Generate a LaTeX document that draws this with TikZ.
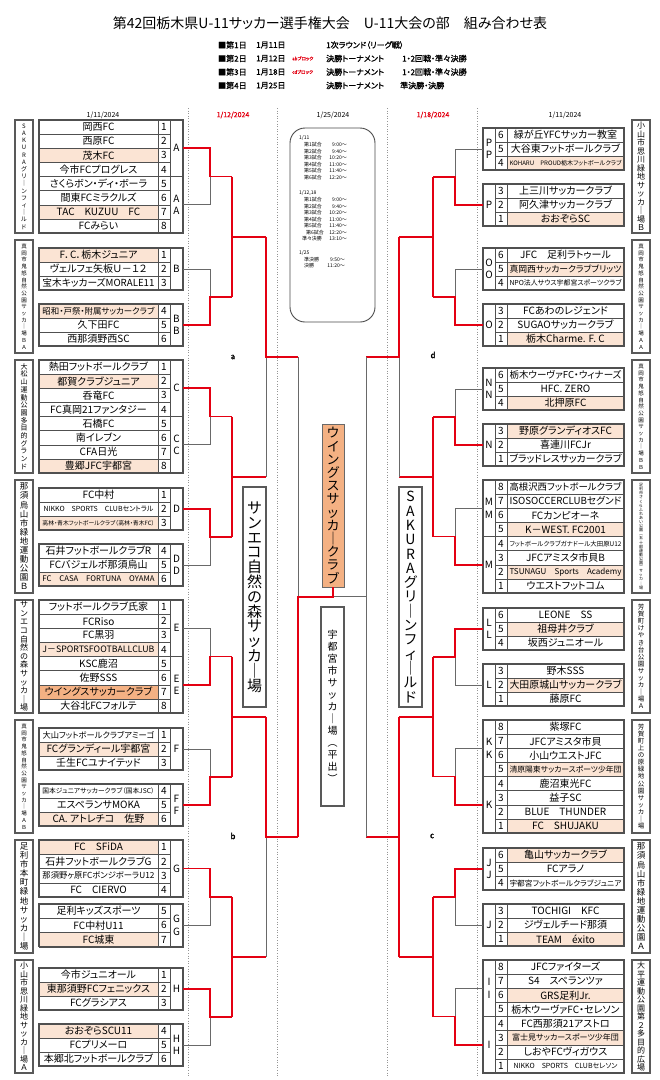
\documentclass[tikz,border=0pt]{standalone}
\usepackage{fontspec}
\usepackage{graphicx}
\setmainfont{Noto Sans CJK JP}[AutoFakeBold=1.2,RawFeature=+palt]
\usetikzlibrary{calc}
\definecolor{peach}{RGB}{251,228,212}
\definecolor{wing}{RGB}{244,177,131}
\definecolor{redl}{RGB}{228,0,18}
\definecolor{grayl}{RGB}{105,105,105}
\definecolor{cellc}{RGB}{80,80,80}
\definecolor{dotc}{RGB}{150,150,150}
\newsavebox\fitbox
\newcommand\fitw[2][112pt]{\sbox\fitbox{#2}\ifdim\wd\fitbox>#1\relax\resizebox{#1}{!}{\usebox\fitbox}\else\usebox\fitbox\fi}
\makeatletter
\def\vt@a#1{\ifx\relax#1\else\hbox to 0pt{\hss#1\hss}\expandafter\vt@a\fi}
\newcommand\vtxt[3]{\vbox{\fontsize{#1}{#2}\selectfont\lineskiplimit=-100pt\relax\vt@a#3\relax}}
\makeatother
\def\rowh{14.125}
% rows
\newcommand\Lrow[6]{%
 \draw[cellb,fill=#5] (39,#3) rectangle (158,#3+#4);
 \draw[cellb] (158,#3) rectangle (170,#3+#4);
 \node[nm] (#1#2t) at (98.5,#3+#4/2) {\fitw{#6}};
 \node[nr] (#1#2) at (164,#3+#4/2) {#2};}
\newcommand\Rrow[6]{%
 \draw[cellb,fill=#5] (507,#3) rectangle (624,#3+#4);
 \draw[cellb] (495,#3) rectangle (507,#3+#4);
 \node[nm] (#1#2t) at (565.5,#3+#4/2) {\fitw{#6}};
 \node[nr] (#1#2) at (501,#3+#4/2) {#2};}
\newcommand\Lg[5]{%
 \draw[cellb] (170,#3) rectangle (183,#4);
 \node[gl] (g#1#2) at (176.5,{(#3+#4)/2}) {#5};
 \coordinate (o#1#2) at (183,{(#3+#4)/2});
 \draw[bframe] (39,#3) rectangle (183,#4);}
\newcommand\Rg[5]{%
 \draw[cellb] (483,#3) rectangle (495,#4);
 \node[gl] (g#1#2) at (489,{(#3+#4)/2}) {#5};
 \coordinate (o#1#2) at (483,{(#3+#4)/2});
 \draw[bframe] (483,#3) rectangle (624,#4);}
\newcommand\Lven[5]{\node[venue] (v#1) at (24,#2+56.5) {\vtxt{#3}{#4}{#5}};}
\newcommand\Rven[5]{\node[venue] (v#1) at (641,#2+56.5) {\vtxt{#3}{#4}{#5}};}
% brackets
\newcommand\Lone[2]{%
 \coordinate (#1r) at ($(o#11)!0.5!(o#12)+(27,0)$);
 \coordinate (#1w) at ($(o#11)!0.5!(o#12)+(49,0)$);
 \ifnum#2=1
  \draw[lose] (o#12) -- (o#12 -| #1r) -- (#1r);
  \draw[win] (o#11) -- (o#11 -| #1r) -- (#1r) -- (#1w);
 \else
  \draw[lose] (o#11) -- (o#11 -| #1r) -- (#1r);
  \draw[win] (o#12) -- (o#12 -| #1r) -- (#1r) -- (#1w);
 \fi}
\newcommand\Rone[2]{%
 \coordinate (#1r) at ($(o#11)!0.5!(o#12)+(-28,0)$);
 \coordinate (#1w) at ($(o#11)!0.5!(o#12)+(-50,0)$);
 \ifnum#2=1
  \draw[lose] (o#12) -- (o#12 -| #1r) -- (#1r);
  \draw[win] (o#11) -- (o#11 -| #1r) -- (#1r) -- (#1w);
 \else
  \draw[lose] (o#11) -- (o#11 -| #1r) -- (#1r);
  \draw[win] (o#12) -- (o#12 -| #1r) -- (#1r) -- (#1w);
 \fi}
\newcommand\Ltwo[2]{%
 \coordinate (#1#2m) at ($(#1w)!0.5!(#2w)$);
 \coordinate (#1#2q) at ($(#1#2m)+(34,0)$);
 \draw[win] (#1w) -- (#2w);
 \draw[win] (#1#2m) -- (#1#2q);}
\newcommand\Rtwo[2]{%
 \coordinate (#1#2m) at ($(#1w)!0.5!(#2w)$);
 \coordinate (#1#2q) at ($(#1#2m)+(-34,0)$);
 \draw[win] (#1w) -- (#2w);
 \draw[win] (#1#2m) -- (#1#2q);}
\newcommand\Xqf[5]{%
 \coordinate (#3m) at ($(#1q)!0.5!(#2q)$);
 \coordinate (#3s) at ($(#3m)+(#5,0)$);
 \ifnum#4=1
  \draw[lose] (#3m) -- (#2q);
  \draw[win] (#1q) -- (#3m) -- (#3s);
 \else
  \draw[win] (#1q) -- (#2q);
  \draw[win] (#3m) -- (#3s);
 \fi}
\begin{document}
\begin{tikzpicture}[x=1pt,y=-1pt,
 cellb/.style={draw=cellc,line width=0.5},
 bframe/.style={draw=cellc,line width=1.1},
 venue/.style={draw=black!65,line width=1.5,minimum width=18,minimum height=113,inner sep=0},
 bigbox/.style={draw=black!65,line width=1.6,inner sep=0,fill=white},
 nm/.style={inner sep=0pt,font=\fontsize{10}{12}\selectfont},
 nr/.style={inner sep=0pt,font=\fontsize{10}{12}\selectfont},
 gl/.style={inner sep=0pt,align=center,font=\fontsize{10}{12.5}\selectfont},
 win/.style={draw=redl,line width=1.6},
 lose/.style={draw=grayl,line width=0.7},
 dotl/.style={draw=dotc,line width=0.6,dotted},
 hdr/.style={anchor=west,inner sep=0,font=\bfseries\fontsize{8}{9}\selectfont},
 hred/.style={anchor=west,inner sep=0,text=redl,font=\bfseries\fontsize{4.5}{5}\selectfont},
 dt/.style={inner sep=0,font=\fontsize{7}{8}\selectfont},
 dtr/.style={inner sep=0,text=redl,font=\bfseries\fontsize{7}{8}\selectfont},
 sch/.style={anchor=west,inner sep=0,font=\fontsize{5}{6}\selectfont},
 scht/.style={anchor=east,inner sep=0,font=\fontsize{5}{6}\selectfont},
 blk/.style={inner sep=0,font=\bfseries\fontsize{8}{9}\selectfont}]
\fill[white] (0,0) rectangle (660,1080);
\useasboundingbox (0,0) rectangle (660,1080);
% header
\node[font=\fontsize{14}{16}\selectfont] (title) at (330,23) {第42回栃木県U-11サッカー選手権大会　U-11大会の部　組み合わせ表};
\node[hdr] (h1a) at (218,45) {■第1日};
\node[hdr] (h1b) at (256,45) {1月11日};
\node[hdr] (h1c) at (326,45) {1次ラウンド（リーグ戦）};
\node[hdr] (h2a) at (218,58.5) {■第2日};
\node[hdr] (h2b) at (256,58.5) {1月12日};
\node[hred] (h2r) at (292,58.5) {abブロック};
\node[hdr] (h2c) at (326,58.5) {決勝トーナメント};
\node[hdr] (h2d) at (402,58.5) {1・2回戦・準々決勝};
\node[hdr] (h3a) at (218,72) {■第3日};
\node[hdr] (h3b) at (256,72) {1月18日};
\node[hred] (h3r) at (292,72) {cdブロック};
\node[hdr] (h3c) at (326,72) {決勝トーナメント};
\node[hdr] (h3d) at (402,72) {1・2回戦・準々決勝};
\node[hdr] (h4a) at (218,85.5) {■第4日};
\node[hdr] (h4b) at (256,85.5) {1月25日};
\node[hdr] (h4c) at (326,85.5) {決勝トーナメント};
\node[hdr] (h4d) at (400,85.5) {準決勝・決勝};
% dates
\node[dt] (d1) at (103,115) {1/11/2024};
\node[dtr] (d2) at (233,115) {1/12/2024};
\node[dt] (d3) at (333,115) {1/25/2024};
\node[dtr] (d4) at (433,115) {1/18/2024};
\node[dt] (d5) at (565,115) {1/11/2024};
% dotted separators
\draw[dotl] (188,108) -- (188,1076);
\draw[dotl] (277,108) -- (277,1076);
\draw[dotl] (387,108) -- (387,1076);
\draw[dotl] (477,108) -- (477,1076);
% schedule box
\draw[draw=black!70,line width=0.9,rounded corners=15] (290,128) rectangle (375,322);
\node[sch] (s0) at (299,138) {1/11};
\node[sch] (s1) at (304,145) {第1試合}; \node[scht] (t1) at (347,145) {9:00～};
\node[sch] (s2) at (304,151.5) {第2試合}; \node[scht] (t2) at (347,151.5) {9:40～};
\node[sch] (s3) at (304,158) {第3試合}; \node[scht] (t3) at (347,158) {10:20～};
\node[sch] (s4) at (304,164.5) {第4試合}; \node[scht] (t4) at (347,164.5) {11:00～};
\node[sch] (s5) at (304,171) {第5試合}; \node[scht] (t5) at (347,171) {11:40～};
\node[sch] (s6) at (304,177.5) {第6試合}; \node[scht] (t6) at (347,177.5) {12:20～};
\node[sch] (u0) at (299,193) {1/12,18};
\node[sch] (u1) at (304,200) {第1試合}; \node[scht] (w1) at (347,200) {9:00～};
\node[sch] (u2) at (304,206.5) {第2試合}; \node[scht] (w2) at (347,206.5) {9:40～};
\node[sch] (u3) at (304,213) {第3試合}; \node[scht] (w3) at (347,213) {10:20～};
\node[sch] (u4) at (304,219.5) {第4試合}; \node[scht] (w4) at (347,219.5) {11:00～};
\node[sch] (u5) at (304,226) {第5試合}; \node[scht] (w5) at (347,226) {11:40～};
\node[sch] (u6) at (306,232.5) {第6試合}; \node[scht] (w6) at (347,232.5) {12:20～};
\node[sch] (u7) at (302,239) {準々決勝}; \node[scht] (w7) at (347,239) {13:10～};
\node[sch] (v0) at (299,253) {1/25};
\node[sch] (v1) at (304,259.5) {準決勝}; \node[scht] (x1) at (345,259.5) {9:50～};
\node[sch] (v2) at (304,266) {決勝}; \node[scht] (x2) at (345,266) {11:20～};
% ===== LEFT GROUPS =====
\Lven{A}{120}{6}{7.2}{SAKURAグリ｜ンフィ｜ルド}
\Lrow{A}{1}{120}{\rowh}{white}{岡西FC}
\Lrow{A}{2}{120+1*\rowh}{\rowh}{white}{西原FC}
\Lrow{A}{3}{120+2*\rowh}{\rowh}{peach}{茂木FC}
\Lrow{A}{4}{120+3*\rowh}{\rowh}{white}{今市FCプログレス}
\Lrow{A}{5}{120+4*\rowh}{\rowh}{white}{さくらボン・ディ・ボーラ}
\Lrow{A}{6}{120+5*\rowh}{\rowh}{white}{間東FCミラクルズ}
\Lrow{A}{7}{120+6*\rowh}{\rowh}{peach}{TAC　KUZUU　FC}
\Lrow{A}{8}{120+7*\rowh}{\rowh}{white}{FCみらい}
\Lg{A}{1}{120}{176.5}{A}
\Lg{A}{2}{176.5}{233}{A\\A}
\Lven{B}{240}{5.5}{6.7}{真岡市鬼怒自然公園サッカ｜場ＢＡ}
\Lrow{B}{1}{248}{14}{peach}{F．C．栃木ジュニア}
\Lrow{B}{2}{262}{14}{white}{ヴェルフェ矢板Ｕ－１２}
\Lrow{B}{3}{276}{14}{white}{宝木キッカーズMORALE11}
\Lrow{B}{4}{304}{14}{peach}{昭和・戸祭・附属サッカークラブ}
\Lrow{B}{5}{318}{14}{white}{久下田FC}
\Lrow{B}{6}{332}{14}{white}{西那須野西SC}
\Lg{B}{1}{248}{290}{B}
\Lg{B}{2}{304}{346}{B\\B}
\Lven{C}{360}{7}{7.7}{大松山運動公園多目的グランド}
\Lrow{C}{1}{360}{\rowh}{white}{熱田フットボールクラブ}
\Lrow{C}{2}{360+1*\rowh}{\rowh}{peach}{都賀クラブジュニア}
\Lrow{C}{3}{360+2*\rowh}{\rowh}{white}{呑竜FC}
\Lrow{C}{4}{360+3*\rowh}{\rowh}{white}{FC真岡21ファンタジー}
\Lrow{C}{5}{360+4*\rowh}{\rowh}{white}{石橋FC}
\Lrow{C}{6}{360+5*\rowh}{\rowh}{white}{南イレブン}
\Lrow{C}{7}{360+6*\rowh}{\rowh}{white}{CFA日光}
\Lrow{C}{8}{360+7*\rowh}{\rowh}{peach}{豊郷JFC宇都宮}
\Lg{C}{1}{360}{416.5}{C}
\Lg{C}{2}{416.5}{473}{C\\C}
\Lven{D}{480}{8.5}{9.1}{那須烏山市緑地運動公園Ｂ}
\Lrow{D}{1}{488}{14}{white}{FC中村}
\Lrow{D}{2}{502}{14}{white}{\fontsize{7}{8}\selectfont NIKKO　SPORTS　CLUBセントラル}
\Lrow{D}{3}{516}{14}{peach}{高林・青木フットボールクラブ（高林・青木FC）}
\Lrow{D}{4}{544}{14}{white}{石井フットボールクラブR}
\Lrow{D}{5}{558}{14}{white}{FCバジェルボ那須烏山}
\Lrow{D}{6}{572}{14}{peach}{\fontsize{8}{9}\selectfont FC　CASA　FORTUNA　OYAMA}
\Lg{D}{1}{488}{530}{D}
\Lg{D}{2}{544}{586}{D\\D}
\Lven{E}{600}{8}{8.6}{サンエコ自然の森サッカ｜場}
\Lrow{E}{1}{600}{\rowh}{white}{フットボールクラブ氏家}
\Lrow{E}{2}{600+1*\rowh}{\rowh}{white}{FCRiso}
\Lrow{E}{3}{600+2*\rowh}{\rowh}{white}{FC黒羽}
\Lrow{E}{4}{600+3*\rowh}{\rowh}{peach}{J－SPORTSFOOTBALLCLUB}
\Lrow{E}{5}{600+4*\rowh}{\rowh}{white}{KSC鹿沼}
\Lrow{E}{6}{600+5*\rowh}{\rowh}{white}{佐野SSS}
\Lrow{E}{7}{600+6*\rowh}{\rowh}{wing}{ウイングスサッカークラブ}
\Lrow{E}{8}{600+7*\rowh}{\rowh}{white}{大谷北FCフォルテ}
\Lg{E}{1}{600}{656.5}{E}
\Lg{E}{2}{656.5}{713}{E\\E}
\Lven{F}{720}{5.5}{6.7}{真岡市鬼怒自然公園サッカ｜場ＡＢ}
\Lrow{F}{1}{728}{14}{white}{大山フットボールクラブアミーゴ}
\Lrow{F}{2}{742}{14}{peach}{FCグランディール宇都宮}
\Lrow{F}{3}{756}{14}{white}{壬生FCユナイテッド}
\Lrow{F}{4}{784}{14}{white}{国本ジュニアサッカークラブ（国本JSC）}
\Lrow{F}{5}{798}{14}{white}{エスペランサMOKA}
\Lrow{F}{6}{812}{14}{peach}{CA. アトレチコ　佐野}
\Lg{F}{1}{728}{770}{F}
\Lg{F}{2}{784}{826}{F\\F}
\Lven{G}{840}{8.5}{9.1}{足利市本町緑地サッカ｜場}
\Lrow{G}{1}{840}{14.25}{peach}{FC　SFiDA}
\Lrow{G}{2}{854.25}{14.25}{white}{石井フットボールクラブG}
\Lrow{G}{3}{868.5}{14.25}{white}{那須野ヶ原FCボンジボーラU12}
\Lrow{G}{4}{882.75}{14.25}{white}{FC　CIERVO}
\Lrow{G}{5}{904}{14.25}{white}{足利キッズスポーツ}
\Lrow{G}{6}{918.25}{14.25}{white}{FC中村U11}
\Lrow{G}{7}{932.5}{14.25}{peach}{FC城東}
\Lg{G}{1}{840}{897}{G}
\Lg{G}{2}{904}{946.75}{G\\G}
\Lven{H}{960}{8}{8.5}{小山市思川緑地サッカ｜場Ａ}
\Lrow{H}{1}{968}{14}{white}{今市ジュニオール}
\Lrow{H}{2}{982}{14}{peach}{東那須野FCフェニックス}
\Lrow{H}{3}{996}{14}{white}{FCグラシアス}
\Lrow{H}{4}{1024}{14}{peach}{おおぞらSCU11}
\Lrow{H}{5}{1038}{14}{white}{FCプリメーロ}
\Lrow{H}{6}{1052}{14}{white}{本郷北フットボールクラブ}
\Lg{H}{1}{968}{1010}{H}
\Lg{H}{2}{1024}{1066}{H\\H}
% ===== RIGHT GROUPS =====
\Rven{P}{120}{8}{8.5}{小山市思川緑地サッカ｜場Ｂ}
\Rrow{P}{6}{128}{14}{white}{緑が丘YFCサッカー教室}
\Rrow{P}{5}{142}{14}{white}{大谷東フットボールクラブ}
\Rrow{P}{4}{156}{14}{peach}{KOHARU　PROUD栃木フットボールクラブ}
\Rrow{P}{3}{184}{14}{white}{上三川サッカークラブ}
\Rrow{P}{2}{198}{14}{white}{阿久津サッカークラブ}
\Rrow{P}{1}{212}{14}{peach}{おおぞらSC}
\Rg{P}{1}{128}{170}{P\\P}
\Rg{P}{2}{184}{226}{P}
\Rven{O}{240}{5.5}{6.7}{真岡市鬼怒自然公園サッカ｜場ＡＡ}
\Rrow{O}{6}{248}{14}{white}{JFC　足利ラトゥール}
\Rrow{O}{5}{262}{14}{peach}{真岡西サッカークラブブリッツ}
\Rrow{O}{4}{276}{14}{white}{NPO法人サウス宇都宮スポーツクラブ}
\Rrow{O}{3}{304}{14}{white}{FCあわのレジェンド}
\Rrow{O}{2}{318}{14}{white}{SUGAOサッカークラブ}
\Rrow{O}{1}{332}{14}{peach}{栃木Charme. F. C}
\Rg{O}{1}{248}{290}{O\\O}
\Rg{O}{2}{304}{346}{O}
\Rven{N}{360}{5.5}{6.7}{真岡市鬼怒自然公園サッカ｜場ＢＢ}
\Rrow{N}{6}{368}{14}{white}{栃木ウーヴァFC・ウィナーズ}
\Rrow{N}{5}{382}{14}{white}{HFC. ZERO}
\Rrow{N}{4}{396}{14}{peach}{北押原FC}
\Rrow{N}{3}{424}{14}{peach}{野原グランディオスFC}
\Rrow{N}{2}{438}{14}{white}{喜連川FCJr}
\Rrow{N}{1}{452}{14}{white}{ブラッドレスサッカークラブ}
\Rg{N}{1}{368}{410}{N\\N}
\Rg{N}{2}{424}{466}{N}
\Rven{M}{480}{4}{4.1}{足利市さくらふれあい公園︵五十部運動公園︶サッカ｜場}
\Rrow{M}{8}{480}{\rowh}{white}{高根沢西フットボールクラブ}
\Rrow{M}{7}{480+1*\rowh}{\rowh}{white}{ISOSOCCERCLUBセグンド}
\Rrow{M}{6}{480+2*\rowh}{\rowh}{white}{FCカンピオーネ}
\Rrow{M}{5}{480+3*\rowh}{\rowh}{peach}{K－WEST. FC2001}
\Rrow{M}{4}{480+4*\rowh}{\rowh}{white}{\fontsize{7}{8}\selectfont フットボールクラブガナドール大田原U12}
\Rrow{M}{3}{480+5*\rowh}{\rowh}{white}{JFCアミスタ市貝B}
\Rrow{M}{2}{480+6*\rowh}{\rowh}{peach}{TSUNAGU　Sports　Academy}
\Rrow{M}{1}{480+7*\rowh}{\rowh}{white}{ウエストフットコム}
\Rg{M}{1}{480}{536.5}{M\\M}
\Rg{M}{2}{536.5}{593}{M}
\Rven{L}{600}{6.5}{7.1}{芳賀町けやき台公園サッカ｜場Ａ}
\Rrow{L}{6}{608}{14}{white}{LEONE　SS}
\Rrow{L}{5}{622}{14}{peach}{祖母井クラブ}
\Rrow{L}{4}{636}{14}{white}{坂西ジュニオール}
\Rrow{L}{3}{664}{14}{white}{野木SSS}
\Rrow{L}{2}{678}{14}{peach}{大田原城山サッカークラブ}
\Rrow{L}{1}{692}{14}{white}{藤原FC}
\Rg{L}{1}{608}{650}{L\\L}
\Rg{L}{2}{664}{706}{L}
\Rven{K}{720}{6.5}{7.1}{芳賀町上の原緑地公園サッカ｜場}
\Rrow{K}{8}{720}{\rowh}{white}{紫塚FC}
\Rrow{K}{7}{720+1*\rowh}{\rowh}{white}{JFCアミスタ市貝}
\Rrow{K}{6}{720+2*\rowh}{\rowh}{white}{小山ウエストJFC}
\Rrow{K}{5}{720+3*\rowh}{\rowh}{peach}{\fontsize{8}{9}\selectfont 清原陽東サッカースポーツ少年団}
\Rrow{K}{4}{720+4*\rowh}{\rowh}{white}{鹿沼東光FC}
\Rrow{K}{3}{720+5*\rowh}{\rowh}{white}{益子SC}
\Rrow{K}{2}{720+6*\rowh}{\rowh}{white}{BLUE　THUNDER}
\Rrow{K}{1}{720+7*\rowh}{\rowh}{peach}{FC　SHUJAKU}
\Rg{K}{1}{720}{776.5}{K\\K}
\Rg{K}{2}{776.5}{833}{K}
\Rven{J}{840}{8.5}{9.1}{那須烏山市緑地運動公園Ａ}
\Rrow{J}{6}{848}{14}{peach}{亀山サッカークラブ}
\Rrow{J}{5}{862}{14}{white}{FCアラノ}
\Rrow{J}{4}{876}{14}{white}{\fontsize{8}{9}\selectfont 宇都宮フットボールクラブジュニア}
\Rrow{J}{3}{904}{14}{white}{TOCHIGI　KFC}
\Rrow{J}{2}{918}{14}{white}{ジヴェルチード那須}
\Rrow{J}{1}{932}{14}{peach}{TEAM　éxito}
\Rg{J}{1}{848}{890}{J\\J}
\Rg{J}{2}{904}{946}{J}
\Rven{I}{960}{8}{8.5}{大平運動公園第２多目的広場}
\Rrow{I}{8}{960}{\rowh}{white}{JFCファイターズ}
\Rrow{I}{7}{960+1*\rowh}{\rowh}{white}{S4　スペランツァ}
\Rrow{I}{6}{960+2*\rowh}{\rowh}{peach}{GRS足利Jr.}
\Rrow{I}{5}{960+3*\rowh}{\rowh}{white}{栃木ウーヴァFC・セレソン}
\Rrow{I}{4}{960+4*\rowh}{\rowh}{white}{FC西那須21アストロ}
\Rrow{I}{3}{960+5*\rowh}{\rowh}{peach}{\fontsize{8}{9}\selectfont 富士見サッカースポーツ少年団}
\Rrow{I}{2}{960+6*\rowh}{\rowh}{white}{しおやFCヴィガウス}
\Rrow{I}{1}{960+7*\rowh}{\rowh}{white}{\fontsize{7}{8}\selectfont NIKKO　SPORTS　CLUBセレソン}
\Rg{I}{1}{960}{1016.5}{I\\I}
\Rg{I}{2}{1016.5}{1073}{I}
% ===== centre boxes =====
\node[bigbox,minimum width=23,minimum height=220] (vL) at (254.5,597) {\vtxt{15}{14.8}{サンエコ自然の森サッカ｜場}};
\node[bigbox,minimum width=23,minimum height=220] (vR) at (410.5,597) {\vtxt{14}{14.3}{SAKURAグリ｜ンフィ｜ルド}};
\node[bigbox,minimum width=23,minimum height=199] (vC) at (332.5,706.5) {\vtxt{10}{12}{宇都宮市サッカ｜場︵平出︶}};
\node[draw=grayl,line width=0.8,fill=wing,inner sep=0,minimum width=22,minimum height=163] (champ) at (333,505.5) {\vtxt{13}{13.2}{ウイングスサッカ｜クラブ}};
% ===== brackets =====
\Lone{A}{1}\Lone{B}{2}\Lone{C}{1}\Lone{D}{1}
\Lone{E}{2}\Lone{F}{2}\Lone{G}{1}\Lone{H}{1}
\Ltwo{A}{B}\Ltwo{C}{D}\Ltwo{E}{F}\Ltwo{G}{H}
\Xqf{AB}{CD}{a}{1}{32}
\Xqf{EF}{GH}{b}{1}{32}
\Rone{P}{2}\Rone{O}{2}\Rone{N}{2}\Rone{M}{2}
\Rone{L}{1}\Rone{K}{2}\Rone{J}{1}\Rone{I}{2}
\Rtwo{P}{O}\Rtwo{N}{M}\Rtwo{L}{K}\Rtwo{J}{I}
\Xqf{PO}{NM}{d}{1}{-33}
\Xqf{LK}{JI}{c}{0}{-33}
\coordinate (fl) at ($(as)!0.5!(bs)$);
\coordinate (fr) at ($(ds)!0.5!(cs)$);
\draw[lose] (as) -- (fl);
\draw[lose] (ds) -- (cs);
\draw[lose] (fr) -- (fr -| champ);
\draw[win] (bs) -- (fl) -- (fl -| champ) -- (champ.south);
% block labels
\node[blk] (la) at (233,357) {a};
\node[blk] (lb) at (233,836) {b};
\node[blk] (lc) at (432,836) {c};
\node[blk] (ld) at (433,355) {d};
\end{tikzpicture}
\end{document}
